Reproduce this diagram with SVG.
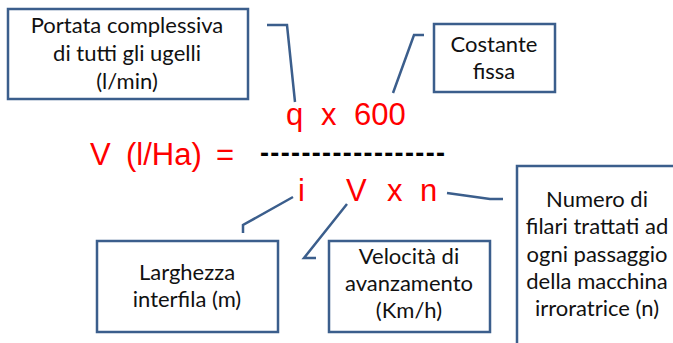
<svg xmlns="http://www.w3.org/2000/svg" width="673" height="343" viewBox="0 0 673 343">
<style>
.box{fill:#fff;stroke:#3b5e8c;stroke-width:2.5}
.lbl{font-family:Lato,"Open Sans",sans-serif;font-size:22px;fill:#111;text-anchor:middle}
.f{font-family:"Liberation Sans",Arial,sans-serif;font-size:31px;fill:#ff0000}
.con{fill:none;stroke:#3b5e8c;stroke-width:2.5}
</style>
<rect width="673" height="343" fill="#fff"/>
<g id="n-portata">
<rect class="box" x="8" y="9" width="240" height="90"/>
<text class="lbl" x="127" y="33">Portata  complessiva</text>
<text class="lbl" x="127" y="61">di tutti gli ugelli</text>
<text class="lbl" x="127" y="89">(l/min)</text>
</g>
<g id="n-costante">
<rect class="box" x="434" y="24" width="121" height="68"/>
<text class="lbl" x="494" y="52">Costante</text>
<text class="lbl" x="494" y="79">fissa</text>
</g>
<g id="n-larghezza">
<rect class="box" x="97" y="241" width="181" height="91"/>
<text class="lbl" x="187" y="280">Larghezza</text>
<text class="lbl" x="187" y="307">interfila (m)</text>
</g>
<g id="n-velocita">
<rect class="box" x="329" y="241" width="161" height="91"/>
<text class="lbl" x="409" y="264">Velocità di</text>
<text class="lbl" x="409" y="291">avanzamento</text>
<text class="lbl" x="409" y="318">(Km/h)</text>
</g>
<g id="n-numero">
<rect class="box" x="517" y="166" width="170" height="190"/>
<text class="lbl" x="597" y="207">Numero di</text>
<text class="lbl" x="597" y="234">filari trattati ad</text>
<text class="lbl" x="597" y="262">ogni passaggio</text>
<text class="lbl" x="597" y="289">della macchina</text>
<text class="lbl" x="597" y="316">irroratrice (n)</text>
</g>
<g id="formula">
<text class="f" y="125"><tspan x="286">q</tspan><tspan x="321">x</tspan><tspan x="354">600</tspan></text>
<text class="f" y="165"><tspan x="90">V</tspan><tspan x="126">(l/Ha)</tspan><tspan x="216">=</tspan></text>
<text x="260" y="162" font-family="Liberation Sans,Arial,sans-serif" font-size="27" font-weight="bold" fill="#000" textLength="185" lengthAdjust="spacing">------------------</text>
<text class="f" y="201"><tspan x="298">i</tspan><tspan x="346">V</tspan><tspan x="387">x</tspan><tspan x="420">n</tspan></text>
</g>
<g id="connectors">
<polyline class="con" points="267,25 287,25 295,102"/>
<polyline class="con" points="424,35 414,35 393,93"/>
<polyline class="con" points="293,197 243,225 243,233"/>
<polyline class="con" points="347,204 304,258 316,258"/>
<polyline class="con" points="447,193 490,199 503,199"/>
</g>
</svg>
